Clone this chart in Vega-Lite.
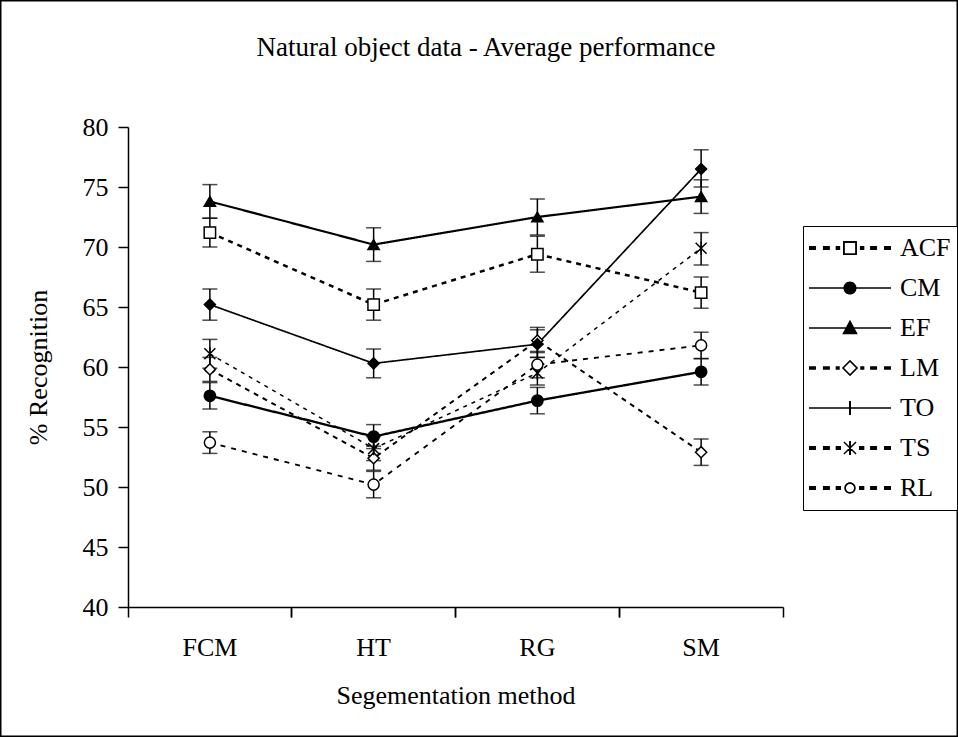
{
  "$schema": "https://vega.github.io/schema/vega-lite/v6.json",
  "width": 958,
  "height": 737,
  "autosize": {"type": "none"},
  "padding": 0,
  "background": "white",
  "config": {
    "view": {"stroke": "black", "strokeWidth": 3},
    "font": "Liberation Serif",
    "axis": {"labelFont": "Liberation Serif", "titleFont": "Liberation Serif", "labelFontSize": 26, "titleFontSize": 26, "titleFontWeight": "normal", "labelColor": "black", "titleColor": "black", "domainColor": "black", "tickColor": "black", "domainWidth": 1.5, "tickWidth": 1.5, "tickSize": 10, "grid": false}
  },
  "title": {"text": "Natural object data - Average performance", "font": "Liberation Serif", "fontSize": 27, "fontWeight": "normal", "color": "black", "anchor": "middle", "offset": -62, "dx": 7},
  "data": {"values": [
    {"series": "ACF", "method": "FCM", "value": 71.2, "lo": 70.0, "hi": 72.4},
    {"series": "ACF", "method": "HT", "value": 65.2, "lo": 63.9, "hi": 66.5},
    {"series": "ACF", "method": "RG", "value": 69.4, "lo": 67.9, "hi": 70.9},
    {"series": "ACF", "method": "SM", "value": 66.2, "lo": 64.9, "hi": 67.5},
    {"series": "CM", "method": "FCM", "value": 57.6, "lo": 56.5, "hi": 58.7},
    {"series": "CM", "method": "HT", "value": 54.2, "lo": 53.2, "hi": 55.2},
    {"series": "CM", "method": "RG", "value": 57.2, "lo": 56.1, "hi": 58.3},
    {"series": "CM", "method": "SM", "value": 59.6, "lo": 58.5, "hi": 60.7},
    {"series": "EF", "method": "FCM", "value": 73.8, "lo": 72.4, "hi": 75.2},
    {"series": "EF", "method": "HT", "value": 70.2, "lo": 68.8, "hi": 71.6},
    {"series": "EF", "method": "RG", "value": 72.5, "lo": 71.0, "hi": 74.0},
    {"series": "EF", "method": "SM", "value": 74.2, "lo": 72.8, "hi": 75.6},
    {"series": "LM", "method": "FCM", "value": 59.8, "lo": 58.8, "hi": 60.8},
    {"series": "LM", "method": "HT", "value": 52.4, "lo": 51.4, "hi": 53.4},
    {"series": "LM", "method": "RG", "value": 62.2, "lo": 61.2, "hi": 63.3},
    {"series": "LM", "method": "SM", "value": 52.9, "lo": 51.8, "hi": 54.0},
    {"series": "TO", "method": "FCM", "value": 65.2, "lo": 63.9, "hi": 66.5},
    {"series": "TO", "method": "HT", "value": 60.3, "lo": 59.1, "hi": 61.5},
    {"series": "TO", "method": "RG", "value": 61.9, "lo": 60.8, "hi": 63.1},
    {"series": "TO", "method": "SM", "value": 76.5, "lo": 75.0, "hi": 78.1},
    {"series": "TS", "method": "FCM", "value": 61.1, "lo": 59.9, "hi": 62.3},
    {"series": "TS", "method": "HT", "value": 53.2, "lo": 52.2, "hi": 54.2},
    {"series": "TS", "method": "RG", "value": 59.5, "lo": 58.5, "hi": 60.8},
    {"series": "TS", "method": "SM", "value": 69.9, "lo": 68.5, "hi": 71.2},
    {"series": "RL", "method": "FCM", "value": 53.7, "lo": 52.8, "hi": 54.6},
    {"series": "RL", "method": "HT", "value": 50.2, "lo": 49.1, "hi": 51.3},
    {"series": "RL", "method": "RG", "value": 60.2, "lo": 59.1, "hi": 61.3},
    {"series": "RL", "method": "SM", "value": 61.8, "lo": 60.7, "hi": 62.9}
  ]},
  "layer": [
    {
      "mark": {"type": "line", "color": "black"},
      "encoding": {
        "x": {"field": "method", "type": "nominal", "sort": ["FCM", "HT", "RG", "SM"], "scale": {"type": "band", "range": [128, 783], "paddingInner": 0, "paddingOuter": 0}, "axis": {"orient": "bottom", "offset": -130, "bandPosition": 0, "labelAngle": 0, "labelPadding": 17, "title": "Segementation method", "titlePadding": 22}},
        "y": {"field": "value", "type": "quantitative", "scale": {"domain": [40, 80], "range": [607, 127], "nice": false, "zero": false}, "axis": {"orient": "left", "offset": -128, "values": [40, 45, 50, 55, 60, 65, 70, 75, 80], "labelPadding": 10, "title": "% Recognition", "titlePadding": 31}},
        "detail": {"field": "series"},
        "strokeDash": {"field": "series", "type": "nominal", "scale": {"domain": ["ACF", "CM", "EF", "LM", "RL", "TO", "TS"], "range": [[5, 5], [1, 0], [1, 0], [5, 5], [5, 6], [1, 0], [4, 5]]}, "legend": null},
        "strokeWidth": {"field": "series", "type": "nominal", "scale": {"domain": ["ACF", "CM", "EF", "LM", "RL", "TO", "TS"], "range": [2.5, 1.5, 1.5, 2.5, 2.2, 1.5, 2.5]}, "legend": null}
      }
    },
    {
      "mark": {"type": "rule", "color": "black", "strokeWidth": 1.5},
      "encoding": {
        "x": {"field": "method", "type": "nominal", "sort": ["FCM", "HT", "RG", "SM"], "scale": {"type": "band", "range": [128, 783], "paddingInner": 0, "paddingOuter": 0}, "axis": null},
        "y": {"field": "lo", "type": "quantitative"},
        "y2": {"field": "hi"}
      }
    },
    {
      "mark": {"type": "tick", "color": "black", "thickness": 1.5, "size": 15},
      "encoding": {
        "x": {"field": "method", "type": "nominal", "sort": ["FCM", "HT", "RG", "SM"], "scale": {"type": "band", "range": [128, 783], "paddingInner": 0, "paddingOuter": 0}, "axis": {"orient": "bottom", "offset": -130, "bandPosition": 1, "labels": false, "domain": false, "title": null}},
        "y": {"field": "lo", "type": "quantitative"}
      }
    },
    {
      "mark": {"type": "tick", "color": "black", "thickness": 1.5, "size": 15},
      "encoding": {
        "x": {"field": "method", "type": "nominal", "sort": ["FCM", "HT", "RG", "SM"], "scale": {"type": "band", "range": [128, 783], "paddingInner": 0, "paddingOuter": 0}, "axis": null},
        "y": {"field": "hi", "type": "quantitative"}
      }
    },
    {
      "mark": {"type": "point", "filled": true, "opacity": 1, "strokeWidth": 1.5},
      "encoding": {
        "x": {"field": "method", "type": "nominal", "sort": ["FCM", "HT", "RG", "SM"], "scale": {"type": "band", "range": [128, 783], "paddingInner": 0, "paddingOuter": 0}, "axis": null},
        "y": {"field": "value", "type": "quantitative"},
        "stroke": {"value": "black"},
        "fill": {"field": "series", "type": "nominal", "scale": {"domain": ["ACF", "CM", "EF", "LM", "RL", "TO", "TS"], "range": ["white", "black", "black", "white", "white", "black", "transparent"]}, "legend": null},
        "size": {"field": "series", "type": "nominal", "scale": {"domain": ["ACF", "CM", "EF", "LM", "RL", "TO", "TS"], "range": [130, 120, 180, 160, 100, 160, 160]}, "legend": null},
        "shape": {"field": "series", "type": "nominal", "scale": {"domain": ["ACF", "CM", "EF", "LM", "RL", "TO", "TS"], "range": ["square", "circle", "triangle-up", "diamond", "circle", "diamond", "M-1,-1L1,1M-1,1L1,-1M0,-1.2L0,1.2"]}, "legend": null}
      }
    },
    {
      "mark": {"type": "point", "filled": true, "opacity": 0, "color": "black", "strokeWidth": 0},
      "encoding": {
        "x": {"field": "method", "type": "nominal", "sort": ["FCM", "HT", "RG", "SM"], "scale": {"type": "band", "range": [128, 783], "paddingInner": 0, "paddingOuter": 0}, "axis": null},
        "y": {"field": "value", "type": "quantitative"},
        "shape": {
          "field": "series", "type": "nominal",
          "scale": {"domain": ["ACF", "CM", "EF", "LM", "TO", "TS", "RL"], "range": [
            "M-1,-0.05H-0.83V0.05H-1Z M-0.66,-0.05H-0.49V0.05H-0.66Z M-0.35,-0.05H-0.24V0.05H-0.35Z M0.24,-0.05H0.35V0.05H0.24Z M0.49,-0.05H0.66V0.05H0.49Z M0.83,-0.05H1V0.05H0.83Z M-0.17,-0.17H0.17V0.17H-0.17Z M-0.125,-0.125V0.125H0.125V-0.125Z",
            "M-1,-0.02H-0.1V0.02H-1Z M0.1,-0.02H1V0.02H0.1Z M-0.16,0A0.16,0.16 0 1,1 0.16,0A0.16,0.16 0 1,1 -0.16,0Z",
            "M-1,-0.02H-0.1V0.02H-1Z M0.1,-0.02H1V0.02H0.1Z M0,-0.2L0.19,0.15H-0.19Z",
            "M-1,-0.045H-0.83V0.045H-1Z M-0.66,-0.045H-0.49V0.045H-0.66Z M-0.35,-0.045H-0.25V0.045H-0.35Z M0.25,-0.045H0.35V0.045H0.25Z M0.49,-0.045H0.66V0.045H0.49Z M0.83,-0.045H1V0.045H0.83Z M0,-0.2L0.2,0L0,0.2L-0.2,0Z M0,-0.145L-0.145,0L0,0.145L0.145,0Z",
            "M-1,-0.02H1V0.02H-1Z M-0.025,-0.17H0.025V0.17H-0.025Z",
            "M-1,-0.05H-0.83V0.05H-1Z M-0.66,-0.05H-0.49V0.05H-0.66Z M-0.35,-0.05H-0.22V0.05H-0.35Z M0.22,-0.05H0.35V0.05H0.22Z M0.49,-0.05H0.66V0.05H0.49Z M0.83,-0.05H1V0.05H0.83Z M-0.025,-0.17H0.025V0.17H-0.025Z M-0.16,-0.135L-0.135,-0.16L0.16,0.135L0.135,0.16Z M0.135,-0.16L0.16,-0.135L-0.135,0.16L-0.16,0.135Z",
            "M-1,-0.05H-0.83V0.05H-1Z M-0.66,-0.05H-0.49V0.05H-0.66Z M-0.35,-0.05H-0.22V0.05H-0.35Z M0.22,-0.05H0.35V0.05H0.22Z M0.49,-0.05H0.66V0.05H0.49Z M0.83,-0.05H1V0.05H0.83Z M-0.14,0A0.14,0.14 0 1,1 0.14,0A0.14,0.14 0 1,1 -0.14,0Z M-0.1,0A0.1,0.1 0 1,0 0.1,0A0.1,0.1 0 1,0 -0.1,0Z"
          ]},
          "legend": {
            "title": null, "orient": "none", "legendX": 803, "legendY": 226, "direction": "vertical",
            "symbolSize": 6724, "clipHeight": 32, "rowPadding": 8, "padding": 6, "labelOffset": 9,
            "labelFont": "Liberation Serif", "labelFontSize": 26, "labelColor": "black", "labelLimit": 200,
            "strokeColor": "black", "fillColor": "white", "symbolStrokeWidth": 0, "symbolFillColor": "black", "symbolStrokeColor": "black", "symbolOpacity": 1,
            "encode": {"legend": {"strokeWidth": {"value": 1.5}}}
          }
        }
      }
    }
  ],
  "resolve": {"axis": {"x": "independent"}, "scale": {"shape": "independent"}}
}
